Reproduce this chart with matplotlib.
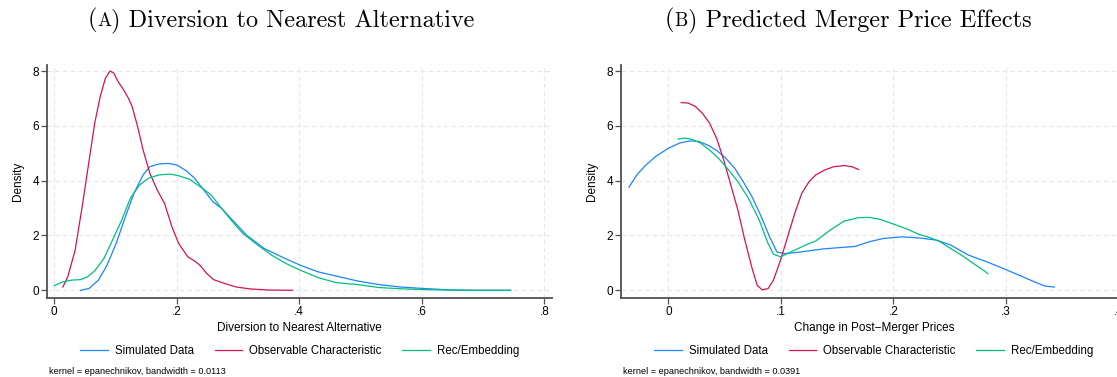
import numpy as np
import matplotlib
matplotlib.use("Agg")
import matplotlib.pyplot as plt
from matplotlib.offsetbox import TextArea, HPacker, AnnotationBbox

plt.rcParams['font.family'] = ['Liberation Sans', 'DejaVu Sans']

# kernel density curves, panel A: diversion to nearest alternative
div_sim_x = [0.043, 0.057, 0.072, 0.086, 0.101, 0.116, 0.130, 0.145, 0.156, 0.171, 0.186, 0.200,
             0.215, 0.229, 0.244, 0.259, 0.273, 0.291, 0.314, 0.343, 0.373, 0.402, 0.431, 0.466,
             0.495, 0.530, 0.565, 0.600, 0.641, 0.688, 0.745]
div_sim_y = [0.00, 0.07, 0.37, 0.91, 1.71, 2.68, 3.54, 4.21, 4.51, 4.61, 4.63, 4.57,
             4.37, 4.09, 3.66, 3.23, 2.99, 2.56, 2.01, 1.52, 1.20, 0.91, 0.67, 0.49,
             0.34, 0.21, 0.12, 0.07, 0.02, 0.00, 0.00]

div_obs_x = [0.014, 0.022, 0.034, 0.0455, 0.057, 0.066, 0.075, 0.0835, 0.091, 0.097, 0.104, 0.113,
             0.121, 0.127, 0.136, 0.145, 0.156, 0.168, 0.180, 0.192, 0.203, 0.218, 0.229, 0.238,
             0.249, 0.260, 0.279, 0.297, 0.320, 0.349, 0.389]
div_obs_y = [0.12, 0.49, 1.46, 3.05, 4.76, 6.10, 7.07, 7.74, 8.00, 7.93, 7.62, 7.32,
             7.01, 6.71, 5.98, 5.12, 4.27, 3.66, 3.17, 2.32, 1.71, 1.22, 1.07, 0.91,
             0.61, 0.39, 0.24, 0.12, 0.05, 0.01, 0.00]

div_rec_x = [0.000, 0.013, 0.028, 0.043, 0.054, 0.066, 0.081, 0.095, 0.110, 0.124, 0.139, 0.154,
             0.171, 0.189, 0.203, 0.221, 0.238, 0.256, 0.273, 0.291, 0.308, 0.332, 0.355, 0.378,
             0.402, 0.431, 0.460, 0.495, 0.530, 0.571, 0.612, 0.670, 0.745]
div_rec_y = [0.17, 0.30, 0.37, 0.39, 0.49, 0.71, 1.16, 1.83, 2.56, 3.35, 3.84, 4.09,
             4.21, 4.24, 4.18, 4.05, 3.78, 3.48, 2.99, 2.50, 2.07, 1.65, 1.28, 0.98,
             0.73, 0.46, 0.28, 0.21, 0.10, 0.05, 0.02, 0.00, 0.00]

# panel B: predicted merger price effects
px_sim_x = [-0.035, -0.028, -0.020, -0.0107, 0.000, 0.0098, 0.019, 0.027, 0.035, 0.043, 0.051, 0.059,
            0.0666, 0.0744, 0.082, 0.090, 0.0965, 0.103, 0.112, 0.125, 0.1375, 0.153, 0.166, 0.1785,
            0.191, 0.207, 0.223, 0.2385, 0.251, 0.267, 0.283, 0.298, 0.314, 0.327, 0.335, 0.343]
px_sim_y = [3.76, 4.21, 4.57, 4.90, 5.18, 5.37, 5.45, 5.43, 5.30, 5.10, 4.82, 4.45,
            3.96, 3.41, 2.74, 1.95, 1.40, 1.34, 1.37, 1.44, 1.51, 1.56, 1.60, 1.77,
            1.89, 1.95, 1.91, 1.83, 1.65, 1.28, 1.04, 0.79, 0.51, 0.28, 0.15, 0.12]

px_obs_x = [0.0114, 0.0177, 0.024, 0.0303, 0.0366, 0.0429, 0.0492, 0.0555, 0.0618, 0.068, 0.0745, 0.079,
            0.0833, 0.0886, 0.0934, 0.0997, 0.106, 0.1123, 0.1186, 0.125, 0.131, 0.139, 0.147, 0.156,
            0.163, 0.169]
px_obs_y = [6.85, 6.83, 6.71, 6.46, 6.10, 5.55, 4.76, 3.84, 2.93, 1.83, 0.79, 0.18,
            0.02, 0.06, 0.37, 1.10, 1.95, 2.80, 3.54, 3.96, 4.21, 4.39, 4.51, 4.55,
            4.51, 4.41]

px_rec_x = [0.0088, 0.0145, 0.0208, 0.0287, 0.0366, 0.0445, 0.0524, 0.0618, 0.0713, 0.0808, 0.0886, 0.0934,
            0.0997, 0.109, 0.122, 0.131, 0.144, 0.156, 0.169, 0.1785, 0.188, 0.2006, 0.213, 0.2227,
            0.232, 0.2416, 0.251, 0.2606, 0.270, 0.278, 0.284]
px_rec_y = [5.52, 5.55, 5.51, 5.37, 5.12, 4.82, 4.45, 3.96, 3.35, 2.56, 1.71, 1.32,
            1.22, 1.40, 1.65, 1.80, 2.20, 2.52, 2.65, 2.66, 2.59, 2.41, 2.22, 2.04,
            1.93, 1.77, 1.52, 1.28, 1.01, 0.79, 0.61]

series_names = ["Simulated Data", "Observable Characteristic", "Rec/Embedding"]
colors = ["#1a85ff", "#d41159", "#00bf7f"]

y_ticks = [0, 2, 4, 6, 8]
a_ticks = [0, 0.2, 0.4, 0.6, 0.8]
a_labels = ["0", ".2", ".4", ".6", ".8"]
b_ticks = [0, 0.1, 0.2, 0.3, 0.4]
b_labels = ["0", ".1", ".2", ".3", ".4"]

W, H = 1117, 377
fig = plt.figure(figsize=(W / 100, H / 100), dpi=100)

axis_grey = "#505050"
ax_h = 232.7


def setup(ax, xticks, xlabels, xlim, xlabel, note):
    ax.set_xlim(*xlim)
    ax.set_ylim(-0.27, 8.22)
    ax.set_xticks(xticks)
    ax.set_xticklabels(xlabels)
    ax.set_yticks(y_ticks)
    ax.grid(True, color="#e6e6e6", linestyle=(0, (4, 3)), linewidth=0.8)
    ax.set_axisbelow(True)
    for s in ["top", "right"]:
        ax.spines[s].set_visible(False)
    for s in ["left", "bottom"]:
        ax.spines[s].set_color(axis_grey)
        ax.spines[s].set_linewidth(1.3)
    ax.tick_params(direction="out", length=4, width=0.9, color=axis_grey,
                   labelsize=8.5, pad=2)
    ax.set_ylabel("Density", fontsize=8.5, labelpad=6)
    ax.set_xlabel(xlabel, fontsize=8.5, labelpad=3)
    ax.legend(loc="center", bbox_to_anchor=(0.5, -(351 - 297.7) / ax_h), ncol=3, frameon=False,
              fontsize=8.3, handlelength=2.4, handletextpad=0.6, columnspacing=1.8)
    ax.text(0.003, -(371 - 297.7) / ax_h, note, transform=ax.transAxes, fontsize=6.6,
            ha="left", va="center")


def title(x, letter, rest):
    # "(A) ..." with a small-caps letter
    parts = [TextArea("(", textprops=dict(family="cmr10", size=17.5)),
             TextArea(letter, textprops=dict(family="cmr10", size=13.5)),
             TextArea(") " + rest, textprops=dict(family="cmr10", size=17.5))]
    box = HPacker(children=parts, align="baseline", pad=0, sep=0)
    ab = AnnotationBbox(box, (x, 1 - 20 / H), xycoords="figure fraction",
                        frameon=False, box_alignment=(0.5, 0.5), pad=0)
    fig.add_artist(ab)


ax1 = fig.add_axes([47.3 / W, 1 - 297.7 / H, 505 / W, ax_h / H])
for xs, ys, c, n in zip([div_sim_x, div_obs_x, div_rec_x], [div_sim_y, div_obs_y, div_rec_y],
                        colors, series_names):
    ax1.plot(xs, ys, color=c, lw=0.9, label=n)
setup(ax1, a_ticks, a_labels, (-0.0114, 0.813), "Diversion to Nearest Alternative",
      "kernel = epanechnikov, bandwidth = 0.0113")

ax2 = fig.add_axes([621.3 / W, 1 - 297.7 / H, 505 / W, ax_h / H])
for xs, ys, c, n in zip([px_sim_x, px_obs_x, px_rec_x], [px_sim_y, px_obs_y, px_rec_y],
                        colors, series_names):
    ax2.plot(xs, ys, color=c, lw=0.9, label=n)
setup(ax2, b_ticks, b_labels, (-0.0418, 0.407), "Change in Post\u2212Merger Prices",
      "kernel = epanechnikov, bandwidth = 0.0391")

title(281 / W, "A", "Diversion to Nearest Alternative")
title(848 / W, "B", "Predicted Merger Price Effects")

fig.savefig("out.png", dpi=100)
